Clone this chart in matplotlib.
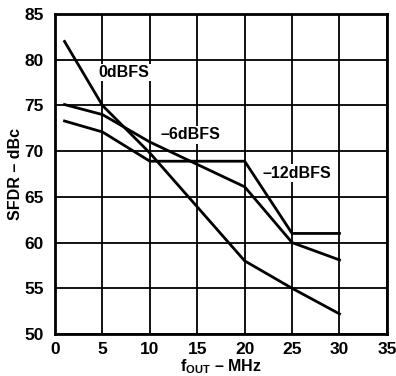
import matplotlib
matplotlib.use("Agg")
import matplotlib.pyplot as plt

plt.rcParams['font.family'] = ['Liberation Sans', 'DejaVu Sans']
plt.rcParams['font.weight'] = 'bold'
plt.rcParams['mathtext.fontset'] = 'custom'
plt.rcParams['mathtext.rm'] = 'Liberation Sans:bold'
plt.rcParams['mathtext.it'] = 'Liberation Sans:bold'
plt.rcParams['mathtext.bf'] = 'Liberation Sans:bold'

x_0dbfs = [1, 5, 10, 20, 25, 30]
y_0dbfs = [82.0, 75.0, 69.8, 58.0, 55.0, 52.2]
x_6dbfs = [1, 5, 10, 20, 25, 30]
y_6dbfs = [75.1, 74.0, 71.0, 66.1, 60.0, 58.1]
x_12dbfs = [1, 5, 10, 20, 25, 30]
y_12dbfs = [73.3, 72.1, 68.9, 68.9, 61.0, 61.0]
labels = ["0dBFS", "\u20136dBFS", "\u201312dBFS"]
label_pos = [(7.3, 78.6), (14.3, 71.8), (25.5, 67.6)]
xticks = [0, 5, 10, 15, 20, 25, 30, 35]
yticks = [50, 55, 60, 65, 70, 75, 80, 85]

fig = plt.figure(figsize=(3.96, 3.76), dpi=100)
ax = fig.add_axes([0.139, 0.1117, 0.838, 0.851])

for xs, ys in [(x_0dbfs, y_0dbfs), (x_6dbfs, y_6dbfs), (x_12dbfs, y_12dbfs)]:
    ax.plot(xs, ys, color='black', lw=2.0, zorder=3, solid_joinstyle='miter')

for lab, (lx, ly) in zip(labels, label_pos):
    ax.text(lx, ly, lab, ha='center', va='center', fontsize=11.5, fontweight='bold',
            bbox=dict(facecolor='white', edgecolor='none', pad=1.0), zorder=4)

ax.set_xlim(0, 35)
ax.set_ylim(50, 85)
ax.set_xticks(xticks)
ax.set_yticks(yticks)
ax.grid(True, color='black', lw=1.3)
ax.set_axisbelow(True)
for s in ax.spines.values():
    s.set_linewidth(2.0)
ax.tick_params(axis='y', length=0, labelsize=12.5, pad=8)
ax.tick_params(axis='x', length=0, labelsize=12.5, pad=6)
for t in ax.get_xticklabels() + ax.get_yticklabels():
    t.set_fontweight('bold')
ax.set_xlabel(r"$\mathrm{f_{OUT}}$" + " \u2013 MHz", fontsize=11.5, fontweight='bold', labelpad=0)
ax.set_ylabel("SFDR \u2013 dBc", fontsize=11.5, fontweight='bold', labelpad=1)

fig.savefig("out.png", dpi=100)
